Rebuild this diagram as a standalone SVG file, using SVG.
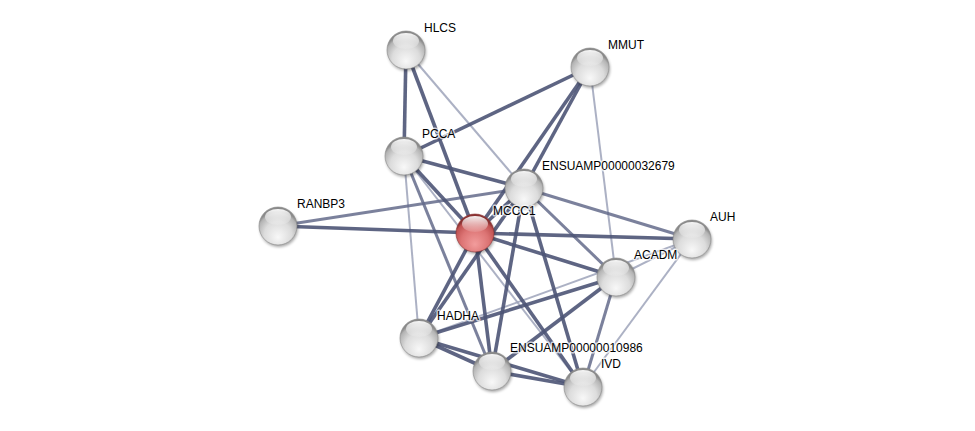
<svg xmlns="http://www.w3.org/2000/svg" width="975" height="431" viewBox="0 0 975 431">
<defs>
<radialGradient id="gw" cx="50%" cy="70%" r="60%" fx="50%" fy="80%">
<stop offset="0" stop-color="#f8f8f8"/>
<stop offset="0.6" stop-color="#dcdcdc"/>
<stop offset="0.9" stop-color="#b4b4b4"/>
<stop offset="1" stop-color="#8a8a8a"/>
</radialGradient>
<radialGradient id="gr" cx="50%" cy="70%" r="60%" fx="50%" fy="80%">
<stop offset="0" stop-color="#f29c9c"/>
<stop offset="0.6" stop-color="#dc7474"/>
<stop offset="0.9" stop-color="#c05252"/>
<stop offset="1" stop-color="#8a3232"/>
</radialGradient>
<linearGradient id="hl" x1="0" y1="0" x2="0" y2="1">
<stop offset="0" stop-color="#fff" stop-opacity="0.95"/>
<stop offset="1" stop-color="#fff" stop-opacity="0.1"/>
</linearGradient>
<filter id="sh" x="-50%" y="-50%" width="200%" height="200%">
<feGaussianBlur stdDeviation="1.5"/>
</filter>
</defs>
<style>
.e{fill:none;stroke-linecap:butt}
.t{stroke:#4d5476;stroke-width:3.6;stroke-opacity:0.9}
.m{stroke:#646b8b;stroke-width:3;stroke-opacity:0.85}
.l{stroke:#9ea3ba;stroke-width:2;stroke-opacity:0.85}
.sh{fill:#000;opacity:0.35;filter:url(#sh)}
.bw{fill:url(#gw);stroke:#8a8a8a;stroke-width:0.6}
.br{fill:url(#gr);stroke:#8e3434;stroke-width:0.6}
.hi{fill:url(#hl)}
.lb{font-family:"Liberation Sans",Arial,sans-serif;font-size:12px;fill:#000;stroke:#fff;stroke-width:3;stroke-opacity:0.7;paint-order:stroke;stroke-linejoin:round}
</style>
<rect width="975" height="431" fill="#fff"/>
<g id="edges">
<line class="e l" x1="406" y1="50" x2="524" y2="188"/>
<line class="e l" x1="590" y1="67" x2="616" y2="277"/>
<line class="e l" x1="404" y1="156" x2="419" y2="338"/>
<line class="e l" x1="404" y1="156" x2="583" y2="387"/>
<line class="e l" x1="692" y1="239" x2="419" y2="338"/>
<line class="e l" x1="692" y1="239" x2="616" y2="277"/>
<line class="e l" x1="692" y1="239" x2="583" y2="387"/>
<line class="e m" x1="524" y1="188" x2="692" y2="239"/>
<line class="e m" x1="524" y1="188" x2="616" y2="277"/>
<line class="e m" x1="616" y1="277" x2="583" y2="387"/>
<line class="e m" x1="404" y1="156" x2="492" y2="371"/>
<line class="e m" x1="278" y1="226" x2="524" y2="188"/>
<line class="e t" x1="406" y1="50" x2="404" y2="156"/>
<line class="e t" x1="406" y1="50" x2="475" y2="233"/>
<line class="e t" x1="590" y1="67" x2="404" y2="156"/>
<line class="e t" x1="590" y1="67" x2="524" y2="188"/>
<line class="e t" x1="590" y1="67" x2="475" y2="233"/>
<line class="e t" x1="404" y1="156" x2="524" y2="188"/>
<line class="e t" x1="404" y1="156" x2="475" y2="233"/>
<line class="e t" x1="278" y1="226" x2="475" y2="233"/>
<line class="e t" x1="475" y1="233" x2="524" y2="188"/>
<line class="e t" x1="475" y1="233" x2="692" y2="239"/>
<line class="e t" x1="475" y1="233" x2="616" y2="277"/>
<line class="e t" x1="475" y1="233" x2="419" y2="338"/>
<line class="e t" x1="475" y1="233" x2="492" y2="371"/>
<line class="e t" x1="475" y1="233" x2="583" y2="387"/>
<line class="e t" x1="524" y1="188" x2="419" y2="338"/>
<line class="e t" x1="524" y1="188" x2="492" y2="371"/>
<line class="e t" x1="524" y1="188" x2="583" y2="387"/>
<line class="e t" x1="616" y1="277" x2="419" y2="338"/>
<line class="e t" x1="616" y1="277" x2="492" y2="371"/>
<line class="e t" x1="419" y1="338" x2="492" y2="371"/>
<line class="e t" x1="419" y1="338" x2="583" y2="387"/>
<line class="e t" x1="492" y1="371" x2="583" y2="387"/>
</g>
<g id="HLCS"><circle class="sh" cx="407" cy="52" r="19"/><circle class="bw" cx="406" cy="50" r="19"/><ellipse class="hi" cx="406" cy="41" rx="13" ry="8"/><text class="lb" x="424" y="32">HLCS</text></g>
<g id="MMUT"><circle class="sh" cx="591" cy="69" r="19"/><circle class="bw" cx="590" cy="67" r="19"/><ellipse class="hi" cx="590" cy="58" rx="13" ry="8"/><text class="lb" x="608" y="49">MMUT</text></g>
<g id="PCCA"><circle class="sh" cx="405" cy="158" r="19"/><circle class="bw" cx="404" cy="156" r="19"/><ellipse class="hi" cx="404" cy="147" rx="13" ry="8"/><text class="lb" x="422" y="138">PCCA</text></g>
<g id="ENSUAMP00000032679"><circle class="sh" cx="525" cy="190" r="19"/><circle class="bw" cx="524" cy="188" r="19"/><ellipse class="hi" cx="524" cy="179" rx="13" ry="8"/><text class="lb" x="542" y="170">ENSUAMP00000032679</text></g>
<g id="RANBP3"><circle class="sh" cx="279" cy="228" r="19"/><circle class="bw" cx="278" cy="226" r="19"/><ellipse class="hi" cx="278" cy="217" rx="13" ry="8"/><text class="lb" x="297" y="208">RANBP3</text></g>
<g id="MCCC1"><circle class="sh" cx="476" cy="235" r="19"/><circle class="br" cx="475" cy="233" r="19"/><ellipse class="hi" cx="475" cy="224" rx="13" ry="8"/><text class="lb" x="493" y="215">MCCC1</text></g>
<g id="AUH"><circle class="sh" cx="693" cy="241" r="19"/><circle class="bw" cx="692" cy="239" r="19"/><ellipse class="hi" cx="692" cy="230" rx="13" ry="8"/><text class="lb" x="710" y="221">AUH</text></g>
<g id="ACADM"><circle class="sh" cx="617" cy="279" r="19"/><circle class="bw" cx="616" cy="277" r="19"/><ellipse class="hi" cx="616" cy="268" rx="13" ry="8"/><text class="lb" x="634" y="259">ACADM</text></g>
<g id="HADHA"><circle class="sh" cx="420" cy="340" r="19"/><circle class="bw" cx="419" cy="338" r="19"/><ellipse class="hi" cx="419" cy="329" rx="13" ry="8"/><text class="lb" x="437" y="320">HADHA</text></g>
<g id="ENSUAMP00000010986"><circle class="sh" cx="493" cy="373" r="19"/><circle class="bw" cx="492" cy="371" r="19"/><ellipse class="hi" cx="492" cy="362" rx="13" ry="8"/><text class="lb" x="510" y="352">ENSUAMP00000010986</text></g>
<g id="IVD"><circle class="sh" cx="584" cy="389" r="19"/><circle class="bw" cx="583" cy="387" r="19"/><ellipse class="hi" cx="583" cy="378" rx="13" ry="8"/><text class="lb" x="601" y="368">IVD</text></g>
</svg>
